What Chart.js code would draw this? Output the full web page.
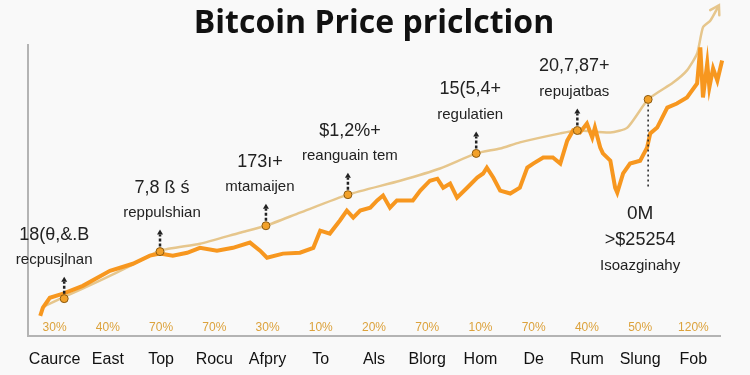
<!DOCTYPE html>
<html>
<head>
<meta charset="utf-8">
<script src="https://cdn.jsdelivr.net/npm/chart.js@4.4.1/dist/chart.umd.min.js"></script>
<style>
  html, body { margin: 0; padding: 0; background: #f9f9f9; }
  #wrap { width: 750px; height: 375px; }
</style>
</head>
<body>
<div id="wrap"><canvas id="chart"></canvas></div>
<script>
const categories = ['Caurce', 'East', 'Top', 'Rocu', 'Afpry', 'To', 'Als', 'Blorg', 'Hom', 'De', 'Rum', 'Slung', 'Fob'];
const shareLabels = ['30%', '40%', '70%', '70%', '30%', '10%', '20%', '70%', '10%', '70%', '40%', '50%', '120%'];

// actual price (jagged orange line)
const priceX = [2.3, 2.8, 4.1, 6.6, 10.3, 15.4, 19.7, 22.9, 24.8, 27.2, 29.9, 32.3, 35.5, 38.5, 41.7, 43.6, 44.9, 47.9, 51.1, 53.6,
  54.9, 56.7, 58.6, 59.9, 61.1, 62.4, 64.3, 65.6, 66.7, 68.0, 69.3, 71.2, 72.3, 73.7, 75.5, 76.9, 78.0, 79.3, 80.6, 82.5,
  84.4, 85.5, 86.2, 87.4, 88.7, 90.6, 92.4, 93.8, 94.9, 96.8, 98.6, 100.0, 101.3, 102.4, 103.7, 105.0, 106.0, 106.5, 107.5, 108.0,
  109.4, 110.3, 110.7, 111.8, 113.1, 115.0, 116.3, 116.9, 118.2, 120.1, 121.9, 123.8, 125.7, 126.3, 126.8, 127.6, 128.0, 128.7, 129.5, 130.4,
  131.0, 131.5];
const priceY = [6.9, 9.7, 13.1, 14.5, 17.2, 22.4, 24.8, 27.6, 28.3, 27.6, 28.6, 30.3, 29.3, 30.3, 32.1, 29.3, 26.9, 28.3, 28.6, 30.3,
  36.2, 35.2, 39.7, 43.1, 40.7, 43.1, 44.1, 46.6, 48.3, 44.1, 46.6, 46.6, 46.6, 50.0, 53.4, 54.1, 51.0, 52.4, 47.6, 51.0,
  54.5, 55.9, 57.9, 54.5, 50.0, 49.0, 51.0, 57.9, 59.3, 61.4, 61.4, 59.3, 67.2, 70.7, 70.0, 73.1, 68.3, 71.7, 64.8, 62.8,
  60.3, 51.0, 49.3, 55.9, 59.3, 60.3, 64.8, 69.7, 71.7, 78.6, 80.0, 82.1, 86.9, 99.3, 82.1, 93.8, 85.5, 92.1, 87.9, 94.8,
  89.0, 90.7];

// prediction trend (thin tan line)
const trendX = [3.2, 6.8, 13.5, 19.2, 24.8, 32.3, 39.8, 44.7, 51.1, 60.1, 69.9, 77.4, 84.2, 88.7, 92.4, 100.0, 103.2, 109.4, 112.6, 116.5,
  121.2, 123.8, 125.7, 126.8, 128.2, 129.8];
const trendY = [10.3, 13.4, 19.0, 24.1, 29.3, 31.7, 35.5, 37.9, 42.4, 48.6, 53.4, 57.6, 62.8, 64.5, 66.6, 69.7, 70.7, 70.0, 71.7, 81.4,
  87.2, 91.4, 97.2, 106.2, 108.6, 113.8];

// marked events
const markerX = [6.8, 24.8, 44.7, 60.1, 84.2, 103.2, 116.5];
const markerY = [12.8, 29.0, 37.9, 48.6, 62.8, 70.7, 81.4];
const noteValues = ['18(θ,&.B', '7,8 ß ś', '173ı+', '$1,2%+', '15(5,4+', '20,7,87+', '0M'];
const noteWords = ['recpusjlnan', 'reppulshian', 'mtamaijen', 'reanguain tem', 'regulatien', 'repujatbas', '>$25254'];
const noteExtra = ['', '', '', '', '', '', 'Isoazginahy'];

const catTicks = categories.map((c, i) => ({value: i * 10 + 5}));

const notesPlugin = {
    id: 'notes',
    afterDatasetsDraw(chart) {
        const {ctx, scales: {x, y}} = chart;
        const shift = [-10, 2, -6, 2, -6, -3, -8];
        ctx.save();

        // arrow head at the end of the prediction line
        const n = trendX.length - 1;
        const ax = x.getPixelForValue(trendX[n]), ay = y.getPixelForValue(trendY[n]);
        const bx = x.getPixelForValue(trendX[n - 1]), by = y.getPixelForValue(trendY[n - 1]);
        const ang = Math.atan2(ay - by, ax - bx);
        ctx.strokeStyle = '#e6c68c';
        ctx.lineWidth = 2.5;
        ctx.lineCap = 'round';
        ctx.beginPath();
        ctx.moveTo(ax - 10 * Math.cos(ang - 0.55), ay - 10 * Math.sin(ang - 0.55));
        ctx.lineTo(ax, ay);
        ctx.lineTo(ax - 10 * Math.cos(ang + 0.55), ay - 10 * Math.sin(ang + 0.55));
        ctx.stroke();
        ctx.lineCap = 'butt';

        markerX.forEach((mx, i) => {
            const px = x.getPixelForValue(mx);
            const py = y.getPixelForValue(markerY[i]);
            ctx.strokeStyle = '#222';
            ctx.fillStyle = '#222';
            if (i === markerX.length - 1) {
                // long dotted drop line
                ctx.lineWidth = 1.5;
                ctx.setLineDash([2, 3]);
                ctx.beginPath();
                ctx.moveTo(px, py + 5);
                ctx.lineTo(px, py + 88);
                ctx.stroke();
            } else {
                ctx.lineWidth = 2.5;
                ctx.setLineDash([3, 2]);
                ctx.beginPath();
                ctx.moveTo(px, py - 5);
                ctx.lineTo(px, py - 17);
                ctx.stroke();
                ctx.setLineDash([]);
                ctx.beginPath();
                ctx.moveTo(px, py - 22);
                ctx.lineTo(px - 3, py - 17);
                ctx.lineTo(px + 3, py - 17);
                ctx.closePath();
                ctx.fill();
            }
            ctx.setLineDash([]);
            ctx.textAlign = 'center';
            ctx.textBaseline = 'middle';
            const tx = px + shift[i];
            if (i === markerX.length - 1) {
                ctx.font = '19px "Liberation Sans", Arial, sans-serif';
                ctx.fillText(noteValues[i], tx, py + 114);
                ctx.font = '18px "Liberation Sans", Arial, sans-serif';
                ctx.fillText(noteWords[i], tx, py + 141);
                ctx.font = '15px "Liberation Sans", Arial, sans-serif';
                ctx.fillText(noteExtra[i], tx, py + 166);
            } else {
                ctx.font = '18px "Liberation Sans", Arial, sans-serif';
                ctx.fillText(noteValues[i], tx, py - 64);
                ctx.font = '15px "Liberation Sans", Arial, sans-serif';
                ctx.fillText(noteWords[i], tx, py - 39);
            }
        });
        ctx.restore();
    }
};

const chartConfig = {
    type: 'line',
    data: {
        datasets: [
            {
                label: 'Markers',
                data: markerX.map((v, i) => ({x: v, y: markerY[i]})),
                showLine: false,
                pointRadius: 4,
                pointBackgroundColor: '#f2a12a',
                pointBorderColor: '#8a5a12',
                pointBorderWidth: 1,
                order: 0
            },
            {
                label: 'Price',
                data: priceX.map((v, i) => ({x: v, y: priceY[i]})),
                borderColor: '#f7971f',
                borderWidth: 4,
                pointRadius: 0,
                tension: 0,
                clip: false,
                order: 1
            },
            {
                label: 'Prediction',
                data: trendX.map((v, i) => ({x: v, y: trendY[i]})),
                borderColor: '#e6c68c',
                borderWidth: 2.5,
                pointRadius: 0,
                tension: 0.2,
                clip: false,
                order: 2
            }
        ]
    },
    options: {
        responsive: true,
        maintainAspectRatio: false,
        animation: false,
        layout: {padding: {left: 28, right: 30, top: 0, bottom: 8}},
        scales: {
            x: {
                type: 'linear',
                min: 0,
                max: 130,
                position: 'bottom',
                weight: 1,
                afterBuildTicks: s => { s.ticks = catTicks.map(t => ({...t})); },
                ticks: {
                    padding: -2,
                    maxRotation: 0,
                    minRotation: 0,
                    autoSkip: false,
                    color: '#111',
                    font: {family: '"Liberation Sans", Arial', size: 16},
                    callback: v => categories[(v - 5) / 10]
                },
                grid: {display: false, drawTicks: false},
                border: {display: false}
            },
            xPct: {
                type: 'linear',
                min: 0,
                max: 130,
                position: 'bottom',
                weight: 0,
                afterBuildTicks: s => { s.ticks = catTicks.map(t => ({...t})); },
                ticks: {
                    mirror: true,
                    padding: 8,
                    maxRotation: 0,
                    minRotation: 0,
                    autoSkip: false,
                    color: '#dca23c',
                    font: {family: '"Liberation Sans", Arial', size: 12, lineHeight: 0.1},
                    callback: v => shareLabels[(v - 5) / 10]
                },
                grid: {display: false, drawTicks: false},
                border: {display: true, color: '#b4b4b4', width: 2}
            },
            y: {
                min: 0,
                max: 100,
                ticks: {display: false},
                grid: {display: false, drawTicks: false},
                border: {display: true, color: '#b4b4b4', width: 2}
            }
        },
        plugins: {
            legend: {display: false},
            tooltip: {enabled: false},
            title: {
                display: true,
                text: 'Bitcoin Price priclction',
                color: '#111',
                font: {family: '"Open Sans", sans-serif', size: 32, weight: 'bold'},
                padding: {top: 5, bottom: 2}
            }
        }
    },
    plugins: [notesPlugin]
};

new Chart(document.getElementById('chart'), chartConfig);
</script>
</body>
</html>
